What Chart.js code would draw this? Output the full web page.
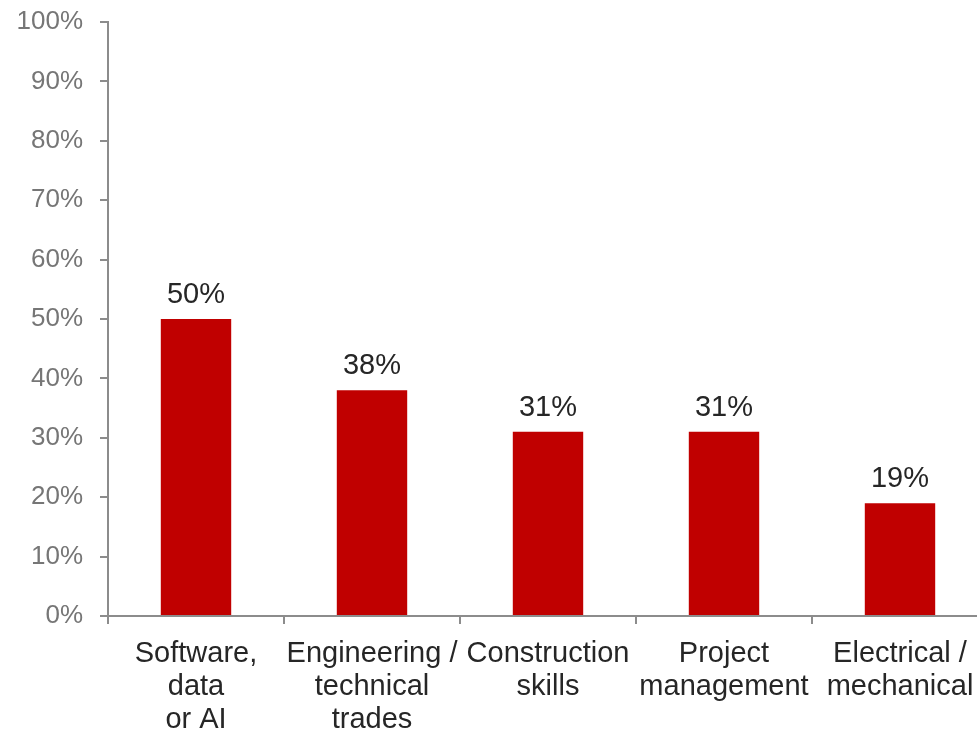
<!DOCTYPE html>
<html>
<head>
<meta charset="utf-8">
<script src="https://cdn.jsdelivr.net/npm/chart.js@4/dist/chart.umd.min.js"></script>
<style>
  html, body { margin: 0; padding: 0; background: #fff; overflow: hidden; }
  #wrap { width: 988px; height: 732px; }
</style>
</head>
<body>
<div id="wrap"><canvas id="chart"></canvas></div>
<script>
// Skill areas and share of respondents (%)
const categories = [
  ["Software,", "data", "or AI"],
  ["Engineering /", "technical", "trades"],
  ["Construction", "skills"],
  ["Project", "management"],
  ["Electrical /", "mechanical"]
];
const shares = [50, 38, 31, 31, 19];
const yTicks = [0, 10, 20, 30, 40, 50, 60, 70, 80, 90, 100];

const FONT = "'Liberation Sans', Arial, sans-serif";
const AXIS_GREY = "#8c8c8c";

// Writes each bar's percentage just above it
const valueLabels = {
  id: "valueLabels",
  afterDatasetsDraw(chart) {
    const ctx = chart.ctx;
    const meta = chart.getDatasetMeta(0);
    ctx.save();
    ctx.font = "29px " + FONT;
    ctx.fillStyle = "#262626";
    ctx.textAlign = "center";
    ctx.textBaseline = "alphabetic";
    meta.data.forEach((bar, i) => {
      ctx.fillText(Math.round(shares[i]) + "%", bar.x, bar.y - 16);
    });
    ctx.restore();
  }
};

new Chart(document.getElementById("chart"), {
  type: "bar",
  data: {
    labels: categories,
    datasets: [{
      data: shares,
      backgroundColor: "#c00000",
      barPercentage: 0.8,
      categoryPercentage: 0.5
    }]
  },
  options: {
    responsive: true,
    maintainAspectRatio: false,
    animation: false,
    layout: { padding: { top: 22, right: 0, bottom: 0, left: 0 } },
    plugins: {
      legend: { display: false },
      tooltip: { enabled: false }
    },
    scales: {
      x: {
        grid: {
          display: true,
          drawOnChartArea: false,
          drawTicks: true,
          tickLength: 8,
          offset: true,
          color: AXIS_GREY,
          lineWidth: 2
        },
        border: { display: true, color: AXIS_GREY, width: 2 },
        ticks: {
          autoSkip: false,
          maxRotation: 0,
          minRotation: 0,
          padding: 13,
          color: "#262626",
          font: { family: FONT, size: 29, lineHeight: 1.15 }
        },
        afterFit(scale) {
          scale.height = 116;
          scale.paddingLeft = 0;
          scale.paddingRight = 0;
        }
      },
      y: {
        min: 0,
        max: 100,
        afterBuildTicks(scale) { scale.ticks = yTicks.map(v => ({ value: v })); },
        grid: {
          display: true,
          drawOnChartArea: false,
          drawTicks: true,
          tickLength: 8,
          color: AXIS_GREY,
          lineWidth: 2
        },
        border: { display: true, color: AXIS_GREY, width: 2 },
        ticks: {
          padding: 17,
          color: "#767676",
          font: { family: FONT, size: 26 },
          callback: v => v + "%"
        },
        afterFit(scale) {
          scale.width = 108;
          scale.paddingTop = 0;
          scale.paddingBottom = 0;
        }
      }
    }
  },
  plugins: [valueLabels]
});
</script>
</body>
</html>
